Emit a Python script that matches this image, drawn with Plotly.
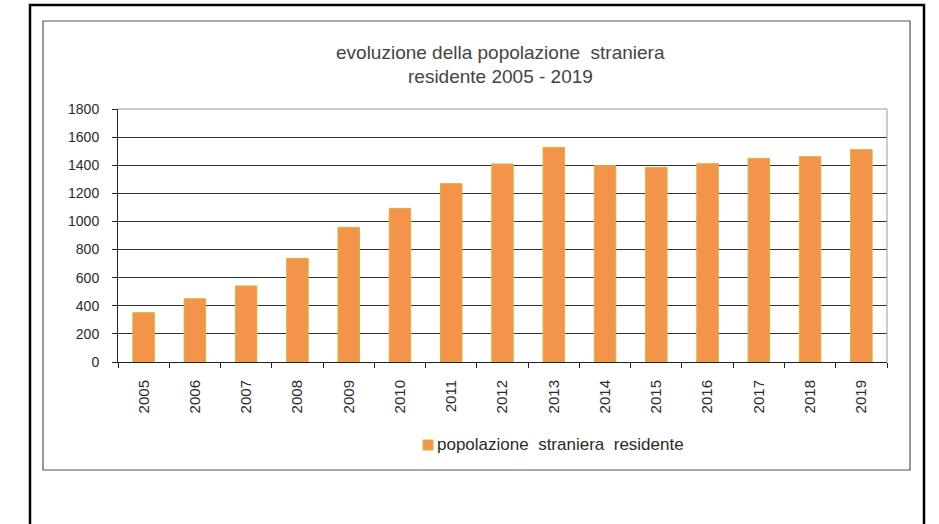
import plotly.graph_objects as go

# Foreign resident population, yearly counts
anni = ["2005", "2006", "2007", "2008", "2009", "2010", "2011", "2012",
        "2013", "2014", "2015", "2016", "2017", "2018", "2019"]
residenti = [351, 450, 541, 738, 958, 1093, 1269, 1409,
             1527, 1397, 1385, 1411, 1449, 1461, 1511]
y_ticks = [0, 200, 400, 600, 800, 1000, 1200, 1400, 1600, 1800]
serie = "popolazione\u00a0 straniera\u00a0 residente"

W, H = 939, 524
L, R, T, B = 118, 887, 109, 362  # plot area in pixels

BAR_FILL = "#F4944A"
BAR_EDGE = "#D8B43C"


def px(x):
    return (x - L) / (R - L)


def py(y):
    return (B - y) / (B - T)


FONT = "Liberation Sans, Arial, sans-serif"

fig = go.Figure()
fig.add_trace(go.Bar(
    x=anni, y=residenti, name=serie,
    marker=dict(color=BAR_FILL, line=dict(color=BAR_EDGE, width=1)),
    showlegend=False,
))

shapes = [
    # outer frame
    dict(type="rect", xref="paper", yref="paper", x0=px(30), x1=px(924),
         y0=py(540), y1=py(5), line=dict(color="black", width=2.5)),
    # chart frame
    dict(type="rect", xref="paper", yref="paper", x0=px(43), x1=px(910),
         y0=py(470), y1=py(21), line=dict(color="#555555", width=1.2)),
    # plot-area border (top and right)
    dict(type="line", xref="paper", yref="paper", x0=0, x1=1, y0=1, y1=1,
         line=dict(color="#9a9a9a", width=1)),
    dict(type="line", xref="paper", yref="paper", x0=1, x1=1, y0=0, y1=1,
         line=dict(color="#9a9a9a", width=1)),
    # legend key
    dict(type="rect", xref="paper", yref="paper", x0=px(423), x1=px(433),
         y0=py(450), y1=py(440), fillcolor=BAR_FILL,
         line=dict(color=BAR_EDGE, width=1)),
]

annotations = [
    dict(text="evoluzione della popolazione\u00a0 straniera", xref="paper", yref="paper",
         x=px(500), y=py(53), xanchor="center", yanchor="middle", showarrow=False,
         font=dict(family=FONT, size=19, color="#444444")),
    dict(text="residente 2005 - 2019", xref="paper", yref="paper",
         x=px(500), y=py(76), xanchor="center", yanchor="middle", showarrow=False,
         font=dict(family=FONT, size=19, color="#444444")),
    # legend label
    dict(text=serie, xref="paper", yref="paper",
         x=px(435), y=py(445), xanchor="left", yanchor="middle", showarrow=False,
         font=dict(family=FONT, size=17, color="#2a2a2a")),
]

fig.update_layout(
    width=W, height=H,
    margin=dict(l=L, r=W - R, t=T, b=H - B, pad=0),
    paper_bgcolor="white", plot_bgcolor="white",
    font=dict(family=FONT, size=14, color="#222222"),
    bargap=0.58,
    shapes=shapes,
    annotations=annotations,
    showlegend=False,
    xaxis=dict(
        type="category", tickangle=-90, tickson="boundaries",
        ticks="outside", ticklen=5, tickcolor="#222222",
        showline=True, linecolor="#222222", linewidth=1,
        showgrid=False, ticklabelstandoff=11,
        tickfont=dict(family=FONT, size=15, color="#2a2a2a"),
    ),
    yaxis=dict(
        range=[0, 1800], tickvals=y_ticks, ticks="outside", ticklen=5,
        tickcolor="#222222", showline=True, linecolor="#222222", linewidth=1,
        showgrid=True, gridcolor="#333333", gridwidth=1, zeroline=False,
        ticklabelstandoff=10,
        tickfont=dict(family=FONT, size=14, color="#2a2a2a"),
    ),
)

fig.write_html("out.html")
